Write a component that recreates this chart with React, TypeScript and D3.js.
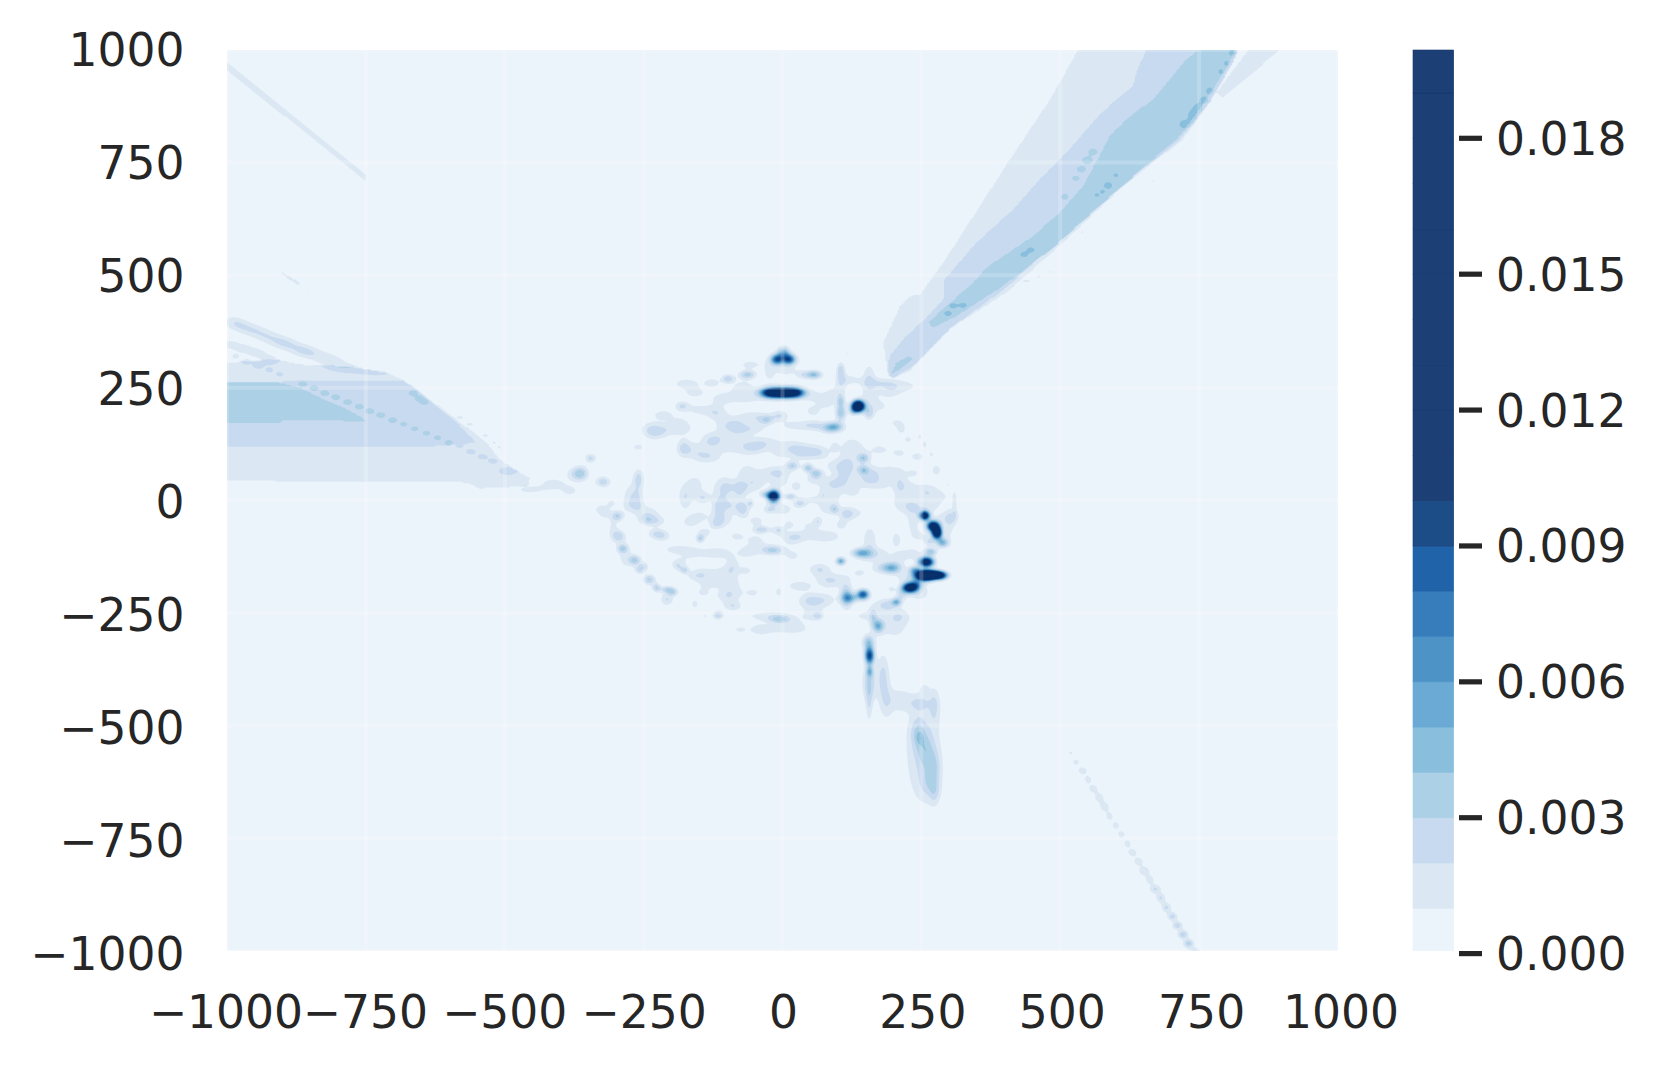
import React, { useMemo } from 'react';
import * as d3 from 'd3';

type Peak = number[]; // x, y, height (in 0.001), sigma x, sigma y

const axisTicks = [-1000, -750, -500, -250, 0, 250, 500, 750, 1000];
const colorbarTicks = [0, 0.003, 0.006, 0.009, 0.012, 0.015, 0.018];
const levels = d3.range(1, 20).map(d => d * 0.001);

const barColors = ['#ebf3fb', '#dbe8f3', '#c8daef', '#acd0e6', '#89bedc', '#6aaad5', '#4d93c6', '#377cbb', '#2163a8', '#1d4d87',
	'#1c4075', '#1c4075', '#1c4075', '#1c4075', '#1c4075', '#1c4075', '#1c4075', '#1c4075', '#1c4075', '#1c4075'];
const plotColors = ['#ebf3fb', '#dbe8f3', '#c8daef', '#acd0e6', '#89bedc', '#69a9d4', '#4a90c5', '#2f7ab9', '#1c62a8', '#0f4a8c',
	'#08377a', '#08306b', '#08306b', '#08306b', '#08306b', '#08306b', '#08306b', '#08306b', '#08306b', '#08306b'];

// west wedge
const westLevel1 = [[-1000, 306], [-911, 313], [-869, 302], [-779, 297], [-713, 283], [-680, 267], [-532, 128], [-509, 91], [-473, 62], [-454, 50], [-458, 32], [-545, 26], [-569, 39], [-1000, 43]];
const westLevel2 = [[-1000, 261], [-869, 265], [-683, 267], [-593, 180], [-551, 128], [-629, 120], [-1000, 120]];
const westLevel3 = [[-1000, 261], [-905, 261], [-869, 250], [-833, 228], [-791, 206], [-755, 183], [-749, 176], [-899, 178], [-905, 172], [-1000, 172]];

// north east wedge
const eastLevel1 = [[190, 276], [181, 350], [211, 431], [229, 454], [247, 457], [289, 528], [409, 757], [481, 890], [532, 1001], [820, 1001], [769, 883], [721, 802], [601, 683], [505, 572], [403, 461], [301, 380], [229, 287], [199, 272]];
const eastLevel1Strip = [[838, 1001], [897, 1001], [793, 894], [781, 905], [829, 985]];
const eastLevel2 = [[655, 1001], [637, 950], [631, 920], [574, 861], [511, 772], [463, 713], [415, 646], [349, 572], [292, 491], [289, 446], [256, 402], [223, 365], [193, 320], [189, 284], [199, 272], [235, 298], [307, 387], [403, 472], [499, 580], [595, 683], [715, 802], [769, 883], [811, 972], [820, 1001]];
const eastLevel3 = [[751, 1001], [727, 979], [667, 890], [625, 853], [589, 809], [571, 765], [541, 698], [499, 639], [451, 587], [367, 517], [343, 483], [295, 431], [262, 395], [271, 383], [313, 409], [397, 476], [487, 561], [571, 654], [715, 809], [757, 879], [805, 972], [814, 1001]];
const eastTip = [[196, 280], [205, 306], [229, 321], [235, 313], [211, 291]];

// thin streak in the upper left
const nwStreak = [[-1000, 972], [-1000, 955], [-750, 708], [-748, 720]];
const nwShortStreak = [[-901, 508], [-868, 483], [-872, 477], [-903, 503]];

const bandLevels = [1, 1, 1, 1, 1, 2, 2, 3, 3, 3];
const bandShapes = [westLevel1, eastLevel1, eastLevel1Strip, nwStreak, nwShortStreak, westLevel2, eastLevel2, westLevel3, eastLevel3, eastTip];

// dotted streaks on top of the wedges
const westScallops: Peak[] = [[-989, 396, 1.5, 11, 8], [-971, 385, 1.5, 11, 8], [-950, 376, 1.5, 11, 8], [-929, 365, 1.5, 11, 8], [-908, 354, 1.5, 11, 8], [-890, 346, 1.5, 11, 8], [-869, 335, 1.5, 11, 8], [-851, 328, 1.5, 11, 8], [-827, 317, 1.5, 11, 8], [-805, 306, 1.5, 11, 8], [-779, 295, 1.3, 14, 6], [-731, 285, 1.2, 18, 4],
	[-995, 346, 1.5, 10, 6], [-970, 337, 1.5, 10, 6], [-946, 327, 1.5, 10, 6], [-923, 313, 1.5, 10, 6],
	[-985, 319, 1.4, 5, 4], [-965, 309, 1.4, 5, 4], [-944, 300, 1.4, 5, 4], [-924, 289, 0.8, 5, 4], [-905, 280, 0.8, 5, 4], [-968, 287, 0.5, 6, 4]];
const westDots: Peak[] = [[-864, 258, 1.2, 5, 4], [-843, 249, 1.2, 5, 4], [-824, 238, 1.2, 5, 4], [-804, 229, 1.2, 5, 4], [-783, 218, 1.2, 5, 4], [-762, 208, 1.2, 5, 4], [-743, 198, 1.2, 5, 4], [-723, 189, 1.2, 5, 4], [-702, 178, 1.2, 5, 4], [-682, 169, 0.9, 5, 4], [-662, 159, 0.9, 5, 4], [-641, 149, 0.9, 5, 4], [-621, 139, 0.9, 5, 4], [-601, 128, 1.0, 5, 4], [-581, 121, 0.8, 6, 4], [-561, 108, 1.0, 6, 4], [-540, 97, 1.0, 6, 4], [-521, 87, 1.0, 6, 4], [-494, 65, 1.0, 12, 6]];
const westStreak: Peak[] = [[-665, 238, 1.3, 4, 3], [-654, 226, 1.3, 4, 3], [-645, 218, 1.2, 4, 3], [-581, 184, 1.2, 6, 3], [-563, 169, 1.2, 6, 3], [-535, 144, 1.2, 5, 3], [-519, 128, 1.15, 3, 3], [-510, 118, 1.15, 3, 3], [-455, 24, 1.3, 14, 5], [-413, 36, 1.5, 12, 7], [-370, 58, 2.4, 9, 8], [-383, 21, 1.3, 8, 6], [-345, 93, 1.2, 5, 5], [-323, 41, 1.3, 6, 6]];
const eastDots: Peak[] = [[298, 415, 1, 5, 4], [307, 432, 1, 5, 4], [325, 433, 1, 5, 4], [435, 546, 1, 5, 4], [447, 556, 1, 5, 4], [508, 674, 1, 5, 5], [538, 735, 1, 6, 5], [549, 755, 1, 7, 6], [559, 774, 1, 6, 5], [528, 715, 1, 5, 4], [586, 699, 1.1, 5, 5], [576, 685, 1, 3, 3], [600, 722, 1, 3, 3], [566, 678, 1, 3, 3], [724, 835, 1.2, 6, 6], [738, 853, 1.2, 5, 9], [748, 870, 1.2, 5, 7], [759, 889, 1.2, 5, 5], [769, 909, 1.2, 4, 5], [789, 952, 1, 3, 4], [799, 970, 1, 3, 4], [810, 994, 1.2, 4, 5]];
const specks: Peak[] = [[439, 487, 1.25, 8, 3], [462, 497, 1.2, 4, 3], [483, 507, 1.15, 4, 3], [540, 596, 1.1, 4, 4], [667, 709, 1.15, 3, 3], [657, 690, 1.05, 2, 2], [594, 528, 1.05, 2, 3], [117, 326, 1.1, 4, 3],
	[361, -620, 1.05, 1.8, 2], [370, -639, 1.05, 2, 2], [381, -659, 1.15, 3, 3], [391, -672, 1.05, 2, 2],
	[-863, 472, 1.15, 3, 2.5], [-854, 461, 1.15, 3, 2.5], [-842, 451, 1.1, 3, 2.5], [-833, 442, 1.1, 2.5, 2.5]];
const seStreak: Peak[] = [[519, -561, 1.1, 3, 3], [528, -581, 1.2, 4, 4], [540, -600, 1.3, 5, 5], [550, -620, 1.25, 4, 5], [559, -640, 1.25, 5, 5], [570, -660, 1.3, 5, 6], [580, -681, 1.3, 5, 6], [589, -702, 1.25, 4, 5], [600, -722, 1.25, 4, 5], [610, -742, 1.25, 4, 5], [621, -762, 1.25, 4, 5], [630, -782, 1.3, 5, 5], [641, -802, 1.35, 5, 5], [651, -823, 1.7, 5, 5], [661, -842, 1.5, 4, 5], [671, -863, 2, 5, 5], [681, -883, 2, 4, 5], [691, -904, 2.3, 5, 6], [702, -924, 2.6, 5, 5], [711, -944, 2.8, 5, 5], [721, -964, 3.2, 5, 5], [731, -984, 3.3, 5, 5], [742, -1001, 2.5, 6, 4]];

// south plumes
const southPlumes: Peak[] = [[156, -317, 2, 6, 9], [157, -346, 7, 4, 9], [157, -380, 3.5, 3, 6], [156, -406, 3, 6, 22], [156, -457, 1.4, 3, 22], [181, -391, 2.3, 6, 26], [187, -450, 1.4, 7, 22], [211, -443, 1.4, 10, 14], [247, -450, 1.5, 12, 10], [274, -457, 1.5, 5, 22], [256, -420, 1.2, 4, 6],
	[244, -517, 1.8, 7, 18], [247, -528, 1.0, 3, 6], [259, -557, 1.6, 8, 20], [274, -591, 1.6, 6, 18], [253, -561, 2, 17, 60], [274, -650, 1.4, 5, 14], [265, -628, 1.5, 9, 16]];

// the bright spots round the ring
const brightSpots: Peak[] = [[-10, 313, 8, 5, 5], [12, 313, 8, 5, 5], [2, 326, 5, 5, 7], [1, 309, 1.3, 16, 9],
	[-22, 239, 12, 8, 5], [0, 239, 14, 8, 5], [22, 239, 12, 8, 5], [-2, 239, 1.2, 20, 9], [136, 209, 20, 5, 5.5], [-16, 9, 15, 5, 6],
	[256, -34, 14, 4, 4.5], [271, -57, 14, 5, 5], [278, -72, 16, 4, 6], [265, -92, 2, 4, 4], [288, -94, 5, 5, 5], [267, -114, 4, 5, 4], [259, -137, 14, 6, 5], [256, -167, 20, 8, 5], [271, -165, 12, 8, 4], [284, -167, 9, 6, 4], [238, -155, 4.5, 5, 4], [198, -150, 5, 8, 6], [178, -150, 1.7, 8, 6], [229, -194, 14, 6, 5], [241, -187, 5, 5, 5], [205, -226, 4.5, 4, 4], [142, -117, 5, 8, 5], [105, -135, 5.5, 4, 4], [115, -213, 4, 5, 12], [122, -217, 4, 7, 5], [145, -209, 9, 5, 5], [172, -279, 5, 5, 7], [156, -342, 3, 4, 8]];

// outer ring
const outerRing: Peak[] = [[-63, 279, 3.5, 8, 5], [-98, 270, 3, 6, 5], [56, 279, 4.5, 8, 5], [-173, 259, 1.6, 12, 6], [-127, 261, 1.4, 8, 6], [-158, 239, 1.4, 10, 6], [-59, 301, 1.3, 10, 5], [105, 290, 2.4, 4, 9], [105, 261, 1.5, 5, 14], [105, 220, 3, 4, 7], [105, 194, 4, 5, 9], [127, 198, 2.5, 4, 5], [94, 163, 4.5, 9, 6], [82, 159, 1.6, 8, 6], [156, 193, 2.5, 5, 8], [156, 276, 1.6, 6, 14], [156, 231, 1.3, 8, 14], [211, 253, 1.3, 20, 8], [175, 261, 1.3, 16, 6], [121, 268, 1.3, 10, 6], [79, 216, 1.3, 8, 7], [55, 198, 1.3, 8, 7], [-5, 188, 2, 8, 6], [-28, 179, 2.4, 6, 5], [-53, 187, 1.4, 14, 6], [-71, 231, 1.4, 18, 10], [7, 287, 1.3, 8, 5], [34, 279, 1.4, 6, 5], [-23, 283, 1.3, 6, 10], [25, 166, 1.4, 16, 6], [58, 166, 1.6, 10, 6],
	[-181, 209, 2.2, 7, 6], [-215, 190, 1.4, 10, 6], [-236, 157, 1.3, 10, 10], [-197, 157, 1.3, 20, 8], [-179, 116, 2, 6, 10], [-125, 198, 1.3, 10, 7], [-128, 128, 1.7, 8, 7], [-95, 165, 1.3, 14, 7], [-143, 98, 1.2, 10, 8], [-161, 113, 1.3, 10, 10], [-113, 142, 1.3, 16, 7], [-65, 157, 1.4, 14, 6], [-29, 128, 1.3, 14, 8], [-65, 113, 1.3, 14, 8], [-260, 118, 1.2, 7, 5], [-346, 94, 1.1, 5, 5], [-362, 61, 1.8, 6, 8],
	[-323, 41, 1.2, 8, 6], [-259, 50, 2, 5, 10], [-260, 9, 1.5, 6, 18], [-275, 9, 1.3, 7, 14], [-308, -6, 1.1, 5, 6], [-329, -20, 1.1, 6, 6], [-320, -28, 1.3, 5, 7], [-297, -35, 3, 6, 6], [-294, -80, 2.6, 6, 7], [-288, -107, 3, 5, 5], [-266, -133, 3.5, 6, 6], [-257, -154, 2.5, 5, 5], [-249, -146, 2.2, 4, 5], [-240, -176, 3.2, 6, 6], [-227, -194, 3, 4, 5], [-206, -198, 3.2, 7, 4], [-197, -205, 2.4, 5, 4], [-208, -220, 2, 6, 7], [-305, -65, 1.2, 5, 14], [-284, -124, 1.2, 7, 16],
	[-245, -43, 1.8, 7, 6], [-227, -46, 1.6, 9, 6], [-227, -74, 1.8, 8, 6], [-239, -28, 1.3, 10, 8], [-215, -80, 1.3, 8, 6], [-191, -109, 1.3, 14, 6], [-148, -85, 3, 4, 5], [-140, -72, 1.3, 7, 6], [-119, -52, 1.5, 6, 6],
	[-131, -117, 1.3, 10, 6], [-177, -155, 2.6, 4, 4], [-189, -146, 1.2, 4, 5], [-155, -168, 1.2, 10, 6], [-158, -231, 1.2, 4, 6], [-116, -255, 3, 5, 5], [-140, -256, 1.1, 3, 3], [-89, -235, 1.5, 8, 5], [-92, -194, 1.3, 10, 18], [-125, -183, 1.2, 14, 6], [-90, -148, 1.5, 7, 10], [-66, -156, 1.6, 5, 4], [-5, -265, 3, 10, 5], [-23, -257, 1.4, 24, 6], [-5, -287, 1.2, 24, 5], [-77, -287, 1.1, 6, 4], [-7, -204, 1.2, 4, 7]];

// inner spiral
const innerSpiral: Peak[] = [[-32, 13, 2.5, 5, 4], [14, 8, 3, 5, 4], [31, -6, 2.4, 6, 6], [18, 77, 3, 6, 5], [46, 72, 3.5, 5, 5], [61, 60, 3.5, 6, 5], [49, 109, 1.7, 14, 8], [19, 120, 1.3, 12, 8], [-23, -20, 2, 6, 5], [1, -20, 1.8, 8, 6], [-37, -65, 2.6, 8, 4], [-7, -66, 2, 6, 5], [12, -54, 1.9, 4, 4], [64, -46, 1.6, 4, 5], [-17, -111, 2.4, 9, 5], [-29, -109, 1.2, 18, 7], [73, 13, 1.3, 4, 8], [25, 31, 1.5, 5, 6], [-47, 39, 1.3, 10, 8], [-23, 61, 1.3, 18, 8], [-65, 61, 1.2, 8, 12], [-5, 39, 1.3, 8, 6], [55, 46, 1.2, 8, 6],
	[-176, 5, 1.6, 6, 14], [-158, 31, 1.3, 10, 16], [-143, 5, 1.6, 6, 6], [-107, 9, 1.7, 10, 24], [-116, -20, 1.3, 5, 12], [-71, -20, 2.4, 6, 10], [-57, -6, 2, 3, 5], [-77, 24, 1.3, 5, 12], [115, -31, 2.3, 7, 8], [94, -20, 2, 4, 5], [106, -54, 1.6, 5, 5], [91, 9, 1.4, 7, 14], [67, -80, 1.3, 10, 7], [25, -80, 1.3, 14, 6], [-47, -46, 1.3, 8, 7], [109, 61, 1.2, 8, 16], [124, 120, 1.4, 10, 10], [146, 94, 3, 5, 5], [146, 67, 2.8, 5, 5], [139, 83, 1.2, 12, 18], [115, 76, 1.1, 8, 14], [175, 39, 1.3, 14, 10], [163, 61, 1.2, 8, 8], [94, 119, 1.3, 4, 6]];

// right part of the ring
const rightRing: Peak[] = [[277, 67, 1.8, 4, 6], [244, 97, 1.5, 6, 5], [214, 157, 1.1, 4, 6], [226, 135, 1.2, 5, 5], [247, 142, 1.1, 3, 6], [256, 124, 1.2, 3, 6], [268, 102, 1.1, 3, 6], [298, 35, 1.1, 2, 2], [310, -13, 1.2, 2, 18], [271, 9, 1.2, 20, 10], [211, 39, 1.2, 5, 14], [220, -6, 1.3, 14, 12],
	[196, -197, 1.8, 3, 3], [214, -209, 2, 5, 7], [190, -231, 1.5, 8, 7], [247, -205, 1.5, 10, 10], [220, -172, 1.3, 8, 6], [301, -57, 1.2, 4, 18], [235, -50, 1.3, 6, 12], [157, -87, 1.9, 6, 14], [205, -87, 1.8, 4, 8], [31, -190, 1.6, 12, 6], [82, -180, 1.5, 10, 8], [67, -150, 1.2, 10, 6], [55, -228, 1.3, 14, 10], [64, -256, 1.8, 4, 4], [163, -257, 2.2, 4, 9], [202, -276, 1.4, 14, 18], [154, -313, 1.8, 5, 8]];

// faint patches filling the ring: x, y
const floorPatches = [[-227, 150], [-185, 172], [-155, 202], [-113, 187], [-83, 172], [-41, 172], [-101, 120], [-125, 98], [-77, 135], [-47, 120], [-5, 105], [31, 102], [67, 105], [91, 76], [103, 39], [127, 17], [151, 46], [133, -28], [55, 2], [79, -20], [79, 39], [-5, 61], [-65, 24], [-95, 31], [-89, -13], [-107, -43], [-149, -35], [-167, -50], [-83, -80], [-47, -87], [19, -87], [49, -57], [91, -80], [19, -124], [-65, -117], [-107, -117], [-113, -161], [-143, -205], [-101, -213], [-53, -205], [49, -220], [79, -220], [67, -161], [103, -176], [139, -161], [157, -124], [175, -117], [211, -124], [235, -117], [247, -80], [235, -20], [265, -13], [289, -43], [307, -35], [223, 31], [259, 24], [193, 68], [211, 105], [175, 113], [235, 61], [205, 172], [175, 209], [193, 239], [55, 231], [91, 239], [-71, 253], [-113, 224], [-269, -13], [-185, -139], [-161, -117], [-143, -161], [175, -235], [211, -257], [145, -257], [55, -257], [-41, -287], [25, -279]];
const floorHeight = 1.12;
const floorSigmaX = 14;
const floorSigmaY = 11;

// list of peaks, how much wider the low and the tall ones get, and what the low ones gain
const peakGroups: [Peak[], number, number, number][] = [
	[westScallops, 1.3, 1.3, 0], [westDots, 1.2, 1.2, 0], [westStreak, 1.4, 1.4, 0.1],
	[eastDots, 1.15, 1.15, 0], [specks, 1.2, 1.2, 0.05], [seStreak, 1.5, 1.3, 0.2],
	[southPlumes, 1.35, 1.35, 0.1], [brightSpots, 1.5, 1.5, 0],
	[outerRing, 1.4, 1.3, 0.1], [innerSpiral, 1.4, 1.3, 0.1], [rightRing, 1.4, 1.3, 0.1],
	[floorPatches.map(([x, y]) => [x, y, floorHeight, floorSigmaX, floorSigmaY]), 1, 1, 0],
];

const gridSize = 640;

// density grid in 0.001 units: wedge bands plus the peaks
const buildField = () => {
	const step = 2000 / gridSize;
	const field = new Float64Array(gridSize * gridSize);
	const toCol = (x: number) => (x + 1000) / step - 0.5;
	const toRow = (y: number) => (1000 - y) / step - 0.5;
	bandShapes.forEach((shape, s) => {
		const xs = shape.map(p => p[0]);
		const ys = shape.map(p => p[1]);
		const c0 = Math.max(0, Math.floor(toCol(d3.min(xs)!)));
		const c1 = Math.min(gridSize - 1, Math.ceil(toCol(d3.max(xs)!)));
		const r0 = Math.max(0, Math.floor(toRow(d3.max(ys)!)));
		const r1 = Math.min(gridSize - 1, Math.ceil(toRow(d3.min(ys)!)));
		for (let r = r0; r <= r1; r++) {
			const y = 1000 - (r + 0.5) * step;
			for (let c = c0; c <= c1; c++) {
				const x = -1000 + (c + 0.5) * step;
				if (d3.polygonContains(shape as [number, number][], [x, y])) {
					const v = bandLevels[s] + 0.5;
					if (field[r * gridSize + c] < v) field[r * gridSize + c] = v;
				}
			}
		}
	});
	peakGroups.forEach(([peaks, lowSpread, tallSpread, bump]) => {
		peaks.forEach(([px, py, h0, sx0, sy0]) => {
			const spread = h0 > 2 ? tallSpread : lowSpread;
			const h = h0 > 2 ? h0 : h0 + bump;
			const sx = sx0 * spread;
			const sy = sy0 * spread;
			const c0 = Math.max(0, Math.floor(toCol(px - 3.6 * sx)));
			const c1 = Math.min(gridSize - 1, Math.ceil(toCol(px + 3.6 * sx)));
			const r0 = Math.max(0, Math.floor(toRow(py + 3.6 * sy)));
			const r1 = Math.min(gridSize - 1, Math.ceil(toRow(py - 3.6 * sy)));
			for (let r = r0; r <= r1; r++) {
				const y = 1000 - (r + 0.5) * step;
				for (let c = c0; c <= c1; c++) {
					const x = -1000 + (c + 0.5) * step;
					const dx = (x - px) / sx;
					const dy = (y - py) / sy;
					field[r * gridSize + c] += h * Math.exp(-0.5 * (dx * dx + dy * dy));
				}
			}
		});
	});
	return field;
};

const App = () => {
	const xScale = d3.scaleLinear().domain([-1000, 1000]).range([227, 1338]);
	const yScale = d3.scaleLinear().domain([-1000, 1000]).range([950.7, 50]);
	const xLabelScale = d3.scaleLinear().domain([-1000, 1000]).range([226, 1341]);
	const yLabelScale = d3.scaleLinear().domain([-1000, 1000]).range([953.6, 49.6]);
	const barScale = d3.scaleLinear().domain([0, 0.018]).range([953.6, 138.3]);
	const tickFormat = d3.format('d');
	const fontSize = 45.6;

	const contourPaths = useMemo(() => {
		const field = buildField();
		const step = 2000 / gridSize;
		const contours = d3.contours().size([gridSize, gridSize]).thresholds(levels.map(d => d * 1000)).smooth(true)(Array.from(field));
		const projection = d3.geoTransform({
			point(x: number, y: number) {
				this.stream.point(xScale(-1000 + x * step), yScale(1000 - y * step));
			}
		});
		const path = d3.geoPath(projection);
		return contours.map(c => path(c));
	}, []);

	return (
		<svg width={1656} height={1068} style={{ position: 'absolute', left: 0, top: 0, background: '#fff' }} fontFamily="'DejaVu Sans'">
			<defs>
				<clipPath id="plotClip"><rect x={227} y={50} width={1111} height={900.7} /></clipPath>
			</defs>
			<rect x={227} y={50} width={1111} height={900.7} fill={plotColors[0]} />
			<g clipPath="url(#plotClip)">
				{contourPaths.map((d, i) => d ? <path key={i} d={d} fill={plotColors[i + 1]} /> : null)}
				{axisTicks.map(t => <line key={'gx' + t} x1={xScale(t)} x2={xScale(t)} y1={50} y2={950.7} stroke="#fff" strokeOpacity={0.2} strokeWidth={4} />)}
				{axisTicks.map(t => <line key={'gy' + t} x1={227} x2={1338} y1={yScale(t)} y2={yScale(t)} stroke="#fff" strokeOpacity={0.2} strokeWidth={4} />)}
			</g>
			{axisTicks.map(t => <text key={'xl' + t} x={xLabelScale(t)} y={1028} textAnchor="middle" fontSize={fontSize} fill="#262626">{tickFormat(t)}</text>)}
			{axisTicks.map(t => <text key={'yl' + t} x={184.5} y={yLabelScale(t) + 16.5} textAnchor="end" fontSize={fontSize} fill="#262626">{tickFormat(t)}</text>)}
			{barColors.map((c, i) => {
				const top = Math.max(50, barScale(0.001 * (i + 1)));
				const bottom = Math.min(950.7, barScale(0.001 * i));
				return <rect key={i} x={1413} width={40.7} y={top} height={bottom - top} fill={c} stroke={i > 8 ? '#14376f' : c} strokeWidth={0.6} />;
			})}
			{colorbarTicks.map(t => (
				<g key={t}>
					<line x1={1459} x2={1482} y1={barScale(t)} y2={barScale(t)} stroke="#262626" strokeWidth={5.2} />
					<text x={1496} y={barScale(t) + 16.5} fontSize={fontSize} fill="#262626">{t.toFixed(3)}</text>
				</g>
			))}
		</svg>
	);
};

export default App;
